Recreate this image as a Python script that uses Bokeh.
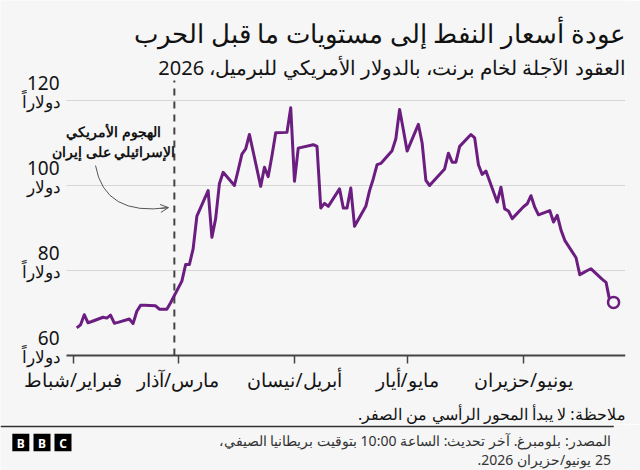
import pandas as pd
from bokeh.plotting import figure
from bokeh.models import Range1d, FixedTicker, Label, Arrow, OpenHead, ColumnDataSource
from bokeh.layouts import column
from bokeh.embed import file_html
from bokeh.resources import INLINE
from bokeh.core.properties import value

# ---------------- data ----------------
dates = [
    "2026-02-02", "2026-02-03", "2026-02-04", "2026-02-05", "2026-02-06",
    "2026-02-09", "2026-02-10", "2026-02-11", "2026-02-12", "2026-02-13",
    "2026-02-16", "2026-02-17", "2026-02-18", "2026-02-19", "2026-02-20",
    "2026-02-23", "2026-02-24", "2026-02-25", "2026-02-26", "2026-02-27",
    "2026-03-02", "2026-03-03", "2026-03-04", "2026-03-05", "2026-03-06",
    "2026-03-09", "2026-03-10", "2026-03-11", "2026-03-12", "2026-03-13",
    "2026-03-16", "2026-03-17", "2026-03-18", "2026-03-19", "2026-03-20",
    "2026-03-23", "2026-03-24", "2026-03-25", "2026-03-26", "2026-03-27",
    "2026-03-30", "2026-03-31", "2026-04-01", "2026-04-02",
    "2026-04-06", "2026-04-07", "2026-04-08", "2026-04-09", "2026-04-10",
    "2026-04-13", "2026-04-14", "2026-04-15", "2026-04-16", "2026-04-17",
    "2026-04-20", "2026-04-21", "2026-04-22", "2026-04-23", "2026-04-24",
    "2026-04-27", "2026-04-28", "2026-04-29", "2026-04-30", "2026-05-01",
    "2026-05-04", "2026-05-05", "2026-05-06", "2026-05-07", "2026-05-08",
    "2026-05-11", "2026-05-12", "2026-05-13", "2026-05-14", "2026-05-15",
    "2026-05-18", "2026-05-19", "2026-05-20", "2026-05-21", "2026-05-22",
    "2026-05-25", "2026-05-26", "2026-05-27", "2026-05-28", "2026-05-29",
    "2026-06-01", "2026-06-02", "2026-06-03", "2026-06-04", "2026-06-05",
    "2026-06-08", "2026-06-09", "2026-06-10", "2026-06-11", "2026-06-12",
    "2026-06-15", "2026-06-16", "2026-06-17", "2026-06-18", "2026-06-19",
    "2026-06-22", "2026-06-23", "2026-06-24", "2026-06-25",
]
brent = [
    66.5, 67.2, 69.6, 67.7, 68.0,
    69.0, 68.8, 69.5, 67.6, 67.8,
    68.6, 67.5, 70.4, 71.8, 71.8,
    71.7, 70.9, 70.9, 70.9, 72.4,
    77.5, 81.4, 81.4, 85.1, 92.8,
    98.8, 87.8, 92.2, 100.4, 103.1,
    100.0, 103.6, 107.4, 108.6, 112.0,
    99.8, 104.3, 102.1, 107.0, 112.4,
    112.5, 118.3, 101.0, 108.8,
    109.6, 109.2, 94.7, 95.8, 95.1,
    99.2, 94.7, 94.7, 99.4, 90.4,
    95.1, 98.8, 101.6, 104.9, 105.2,
    108.2, 111.0, 117.9, 113.1, 108.1,
    114.4, 110.0, 101.2, 100.0, 101.0,
    103.9, 107.6, 105.5, 105.5, 109.2,
    112.0, 111.2, 104.9, 102.6, 103.4,
    96.1, 99.6, 94.5, 94.0, 92.2,
    95.0, 95.7, 97.6, 94.9, 93.1,
    94.1, 91.4, 93.0, 89.5, 87.1,
    83.0, 79.0, 79.5, 80.0, 80.4,
    77.9, 77.2, 72.8, 72.5,
]

month_ticks = ["2026-02-01", "2026-03-01", "2026-04-01", "2026-05-01", "2026-06-01"]
month_labels = ["فبراير/شباط", "مارس/آذار", "أبريل/نيسان", "مايو/أيار", "يونيو/حزيران"]

y_ticks = [60, 80, 100, 120]
y_numbers = ["60", "80", "100", "120"]
y_words = ["دولاراً", "دولاراً", "دولار", "دولاراً"]

event_date = "2026-02-28"
event_text_1 = "الهجوم الأمريكي"
event_text_2 = "الإسرائيلي على إيران"

title = "عودة أسعار النفط إلى مستويات ما قبل الحرب"
subtitle = "العقود الآجلة لخام برنت، بالدولار الأمريكي للبرميل، 2026"
note = "\u200fملاحظة: لا يبدأ المحور الرأسي من الصفر.\u200f"
source_1 = "\u200fالمصدر: بلومبرغ. آخر تحديث: الساعة 10:00 بتوقيت بريطانيا الصيفي،\u200f"
source_2 = "\u200f25 يونيو/حزيران 2026.\u200f"

# ---------------- styling ----------------
BG = "#f6f6f6"
PURPLE = "#6b1d80"
FONT = "Noto Sans"
TEXT = "#141414"
W = 640
MAIN_H = 424          # main figure: page y 0..424, frame covers all of it

# x scale: px per day, Feb 1 at page x 72.5, frame spans page x 0..625
PX_DAY = 3.754
origin = pd.Timestamp("2026-02-01")
x_start = origin - pd.Timedelta(days=72.5 / PX_DAY)
x_end = origin + pd.Timedelta(days=(625 - 72.5) / PX_DAY)
axis_start = origin - pd.Timedelta(days=(72.5 - 66) / PX_DAY)
ms = lambda t: pd.Timestamp(t).value / 1e6

# y scale: 4.25 px per dollar, value 60 at page y 355
PX_USD = 4.25
Y0_PAGE = 355
y_top = 60 + Y0_PAGE / PX_USD
y_bot = 60 - (MAIN_H - Y0_PAGE) / PX_USD
plot_top = 60 + (Y0_PAGE - 80) / PX_USD   # top of the chart area (page y 80)

def sy(page_y):
    """screen y (from frame bottom) for a page y position"""
    return MAIN_H - page_y

x_dates = pd.to_datetime(dates)
src = ColumnDataSource(dict(x=x_dates, y=brent))

# ---------------- main chart ----------------
p = figure(
    width=W, height=MAIN_H, x_axis_type="datetime", x_axis_location="above", title=None,
    x_range=Range1d(x_start, x_end), y_range=Range1d(y_bot, y_top),
    output_backend="svg", toolbar_location=None,
    min_border_left=0, min_border_right=15, min_border_top=0, min_border_bottom=0,
    background_fill_color=BG, border_fill_color=BG,
)
p.outline_line_color = None

p.xgrid.visible = False
p.ygrid.ticker = FixedTicker(ticks=[t for t in y_ticks if t > y_ticks[0]])
p.ygrid.cross_bounds = (ms(axis_start), ms(x_end))
p.ygrid.grid_line_color = "#d6d6d6"
p.ygrid.grid_line_width = 1
p.yaxis.visible = False

tick_ms = [int(pd.Timestamp(t).value // 10**6) for t in month_ticks]
xa = p.xaxis[0]
xa.fixed_location = y_ticks[0]
xa.bounds = (ms(axis_start), ms(x_end))
xa.ticker = FixedTicker(ticks=tick_ms)
xa.major_label_overrides = {t: lab for t, lab in zip(tick_ms, month_labels)}
xa.minor_tick_line_color = None
xa.major_tick_in = 8
xa.major_tick_out = 0
xa.major_tick_line_color = "#444444"
xa.major_tick_line_width = 1.5
xa.axis_line_color = "#444444"
xa.axis_line_width = 2
xa.major_label_text_font = FONT
xa.major_label_text_font_size = "19px"
xa.major_label_text_color = TEXT
xa.major_label_standoff = -37

# event line (dashed)
ev = pd.Timestamp(event_date)
p.segment(x0=[ev], y0=[y_ticks[0]], x1=[ev], y1=[plot_top], line_color="#444444",
          line_width=2, line_dash="7 6")

# price line + end marker
p.line("x", "y", source=src, line_color=PURPLE, line_width=3, line_join="round")
p.scatter(x=[x_dates[-1]], y=[brent[-1]], size=11, marker="circle",
          line_color=PURPLE, line_width=2.5, fill_color=BG)

# curved annotation arrow
p.quadratic(x0=[pd.Timestamp("2026-02-07 00:00")], y0=[104.7],
            x1=[pd.Timestamp("2026-02-26 10:00")], y1=[94.8],
            cx=[pd.Timestamp("2026-02-09 09:00")], cy=[92.7],
            line_color="#555555", line_width=1)
p.add_layout(Arrow(end=OpenHead(size=8, line_color="#555555", line_width=1),
                   x_start=pd.Timestamp("2026-02-24 07:00"), y_start=94.6,
                   x_end=pd.Timestamp("2026-02-26 10:00"), y_end=94.8,
                   line_color="#555555", line_width=1))

def label(text, x, page_y, size, align="right", color=TEXT, style="normal"):
    p.add_layout(Label(x=x, y=sy(page_y), x_units="screen", y_units="screen",
                       text=text, text_align=align, text_baseline="middle",
                       text_font=FONT, text_font_size=size, text_font_style=style,
                       text_color=color))

# titles
label(title, 625, 32, "25.5px", color="#111111")
label(subtitle, 625, 67, "20px")

# annotation text
label(event_text_1, 113, 131, "14px", align="center", style="bold")
label(event_text_2, 113, 151, "14px", align="center", style="bold")

# y labels
for yv, num, word in zip(y_ticks, y_numbers, y_words):
    p.add_layout(Label(x=59, y=yv, x_units="screen", y_units="data", y_offset=18,
                       text=num, text_align="right", text_baseline="middle",
                       text_font=FONT, text_font_size="19px", text_color=TEXT))
    p.add_layout(Label(x=60, y=yv, x_units="screen", y_units="data", y_offset=-1,
                       text=word, text_align="right", text_baseline="middle",
                       text_font=FONT, text_font_size="17px", text_color=TEXT))

# note
label(note, 625, 413, "16px")

# ---------------- footer ----------------
FH = 470 - MAIN_H
f = figure(width=W, height=FH, x_range=Range1d(0, W), y_range=Range1d(FH, 0), title=None,
           output_backend="svg", toolbar_location=None,
           min_border_left=0, min_border_right=0, min_border_top=0, min_border_bottom=0,
           background_fill_color=BG, border_fill_color=BG)
f.axis.visible = False
f.grid.visible = False
f.outline_line_color = None

f.segment(x0=[0], y0=[2], x1=[628], y1=[2], line_color="#333333", line_width=1.5)
logo_letters = ["B", "B", "C"]
logo_x = [20.8, 42.5, 64.0]
f.rect(x=logo_x, y=[18, 18, 18], width=17.4, height=17.4, fill_color="#000000", line_color=None)
f.text(x=logo_x, y=[18.5, 18.5, 18.5], text=logo_letters, text_align="center", text_baseline="middle",
       text_font=value(FONT), text_font_size="12px", text_font_style="bold", text_color="#ffffff")
f.text(x=[625, 625], y=[16, 35], text=[source_1, source_2], text_align="right", text_baseline="middle",
       text_font=value(FONT), text_font_size="14px", text_color="#333333")

layout = column(p, f, spacing=0)
open("out.html", "w").write(file_html(layout, INLINE))
